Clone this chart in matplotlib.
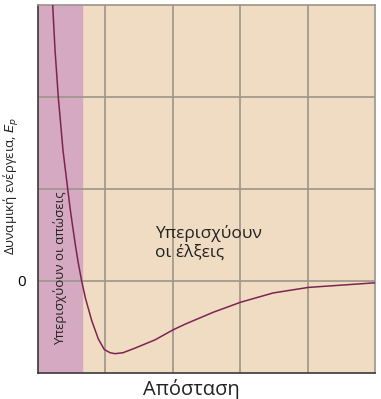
import matplotlib.pyplot as plt

# Καμπύλη δυναμικής ενέργειας (τιμές διαβασμένες από το σχήμα)
distance = [0.218, 0.252, 0.301, 0.371, 0.441, 0.475, 0.509, 0.559, 0.598,
            0.648, 0.705, 0.797, 0.895, 0.984, 1.07, 1.142, 1.26, 1.439,
            1.736, 2.007, 2.181, 2.60, 3.01, 3.49, 4.01, 5.00]
energy = [3.00, 2.52, 2.00, 1.42, 1.00, 0.80, 0.62, 0.37, 0.195,
          0.00, -0.19, -0.43, -0.63, -0.745, -0.78, -0.79, -0.78, -0.73,
          -0.64, -0.53, -0.47, -0.34, -0.23, -0.13, -0.07, -0.02]

repulsion_end = 0.65
x_grid = [1, 2, 3, 4]
y_ticks = [0, 1, 2]
y_tick_labels = ['0', '', '']

plt.rcParams['font.family'] = ['Open Sans', 'DejaVu Sans']

fig = plt.figure(figsize=(3.81, 3.99), dpi=100)
ax = fig.add_axes([0.0997, 0.0652, 0.8845, 0.9223])

ax.set_facecolor('#f0dcc3')
ax.axvspan(0, repulsion_end, color='#d6a9c2', zorder=0)

for x in x_grid:
    ax.axvline(x, color='#9c9489', lw=1.2, zorder=1)
for y in y_ticks:
    ax.axhline(y, color='#9c9489', lw=1.2, zorder=1)

ax.plot(distance, energy, color='#7d2352', lw=1.1, zorder=3,
        solid_joinstyle='round')

ax.set_xlim(0, 5)
ax.set_ylim(-1, 3)
ax.set_xticks([])
ax.set_yticks(y_ticks)
ax.set_yticklabels(y_tick_labels, fontsize=11)
ax.tick_params(axis='y', length=0, pad=9)

for side in ['top', 'right']:
    ax.spines[side].set_color('#9c9489')
    ax.spines[side].set_linewidth(1.2)
for side in ['left', 'bottom']:
    ax.spines[side].set_color('#3a3a3a')
    ax.spines[side].set_linewidth(1.2)

ax.text(0.33, 0.14, 'Υπερισχύουν οι απώσεις', rotation=90, ha='center',
        va='center', fontsize=9.5, color='#222222', zorder=4)
ax.text(1.74, 0.41, 'Υπερισχύουν\nοι έλξεις', ha='left', va='center',
        fontsize=12.5, color='#222222', linespacing=1.2, zorder=4)

ax.set_xlabel('Απόσταση', fontsize=14.5, color='#222222')
ax.xaxis.set_label_coords(0.454, -0.015)
ax.set_ylabel('Δυναμική ενέργεια, $E_p$', fontsize=9.5, color='#222222')
ax.yaxis.set_label_coords(-0.05, 0.51)

fig.savefig('out.png', dpi=100)
